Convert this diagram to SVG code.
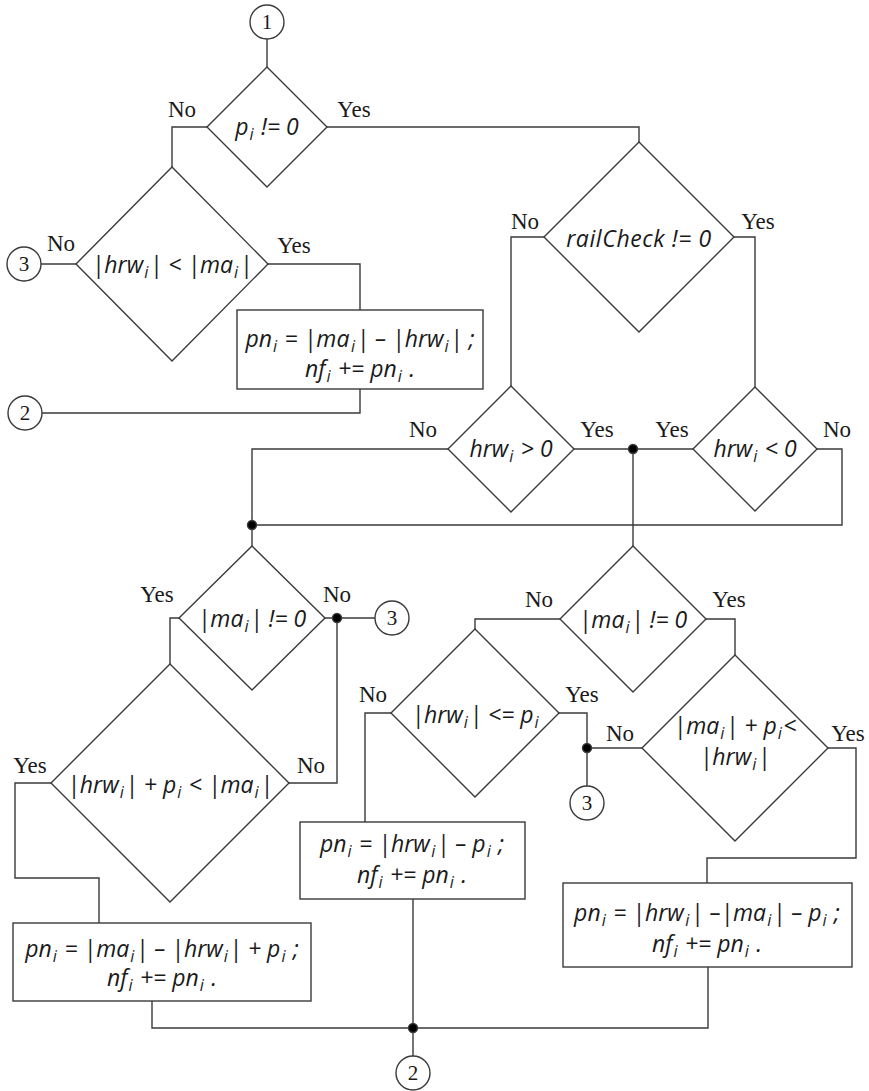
<svg xmlns="http://www.w3.org/2000/svg" width="869" height="1091" viewBox="0 0 869 1091">
<style>
.shape{fill:#fff;stroke:#3a3a3a;stroke-width:1.4}
.wire{fill:none;stroke:#3a3a3a;stroke-width:1.4}
.dot{fill:#000}
.m{font-family:"Open Sans","Noto Sans",sans-serif;font-style:italic;font-size:23px;fill:#1a1a1a;text-anchor:middle}
.s{font-size:16px}
.lbl{font-family:"Liberation Serif",serif;font-size:23px;fill:#1a1a1a;text-anchor:middle}
.num{font-family:"Liberation Serif",serif;font-size:21px;fill:#1a1a1a;text-anchor:middle}
</style>

<!-- connectors -->
<g id="connectors" class="wire">
  <polyline points="267,39 267,67"/>
  <polyline points="207,127 172,127 172,167"/>
  <polyline points="327,127 639,127 639,142"/>
  <polyline points="41,264 76,264"/>
  <polyline points="268,264 360,264 360,310"/>
  <polyline points="360,389 360,413 42,413"/>
  <polyline points="544,237 511,237 511,386"/>
  <polyline points="734,237 755,237 755,387"/>
  <polyline points="574,449 693,449"/>
  <polyline points="633,449 633,546"/>
  <polyline points="817,449 842,449 842,525 252,525"/>
  <polyline points="448,449 252,449 252,546"/>
  <polyline points="325,618 375,618"/>
  <polyline points="337,618 337,783 289,783"/>
  <polyline points="179,618 170,618 170,664"/>
  <polyline points="51,783 15,783 15,878 99,878 99,923"/>
  <polyline points="152,1001 152,1028 708,1028 708,967"/>
  <polyline points="413,899 413,1056"/>
  <polyline points="560,619 475,619 475,629"/>
  <polyline points="706,619 735,619 735,655"/>
  <polyline points="391,713 365,713 365,822"/>
  <polyline points="559,713 587,713 587,786"/>
  <polyline points="587,748 642,748"/>
  <polyline points="828,748 856,748 856,858 707,858 707,883"/>
  <g class="dot">
    <circle cx="633" cy="449" r="4.5"/>
    <circle cx="252" cy="525" r="4.5"/>
    <circle cx="337" cy="618" r="4.5"/>
    <circle cx="587" cy="748" r="4.5"/>
    <circle cx="413" cy="1028" r="4.5"/>
  </g>
</g>

<!-- branch labels -->
<g id="labels" class="lbl">
  <text x="182" y="117">No</text><text x="354" y="117">Yes</text>
  <text x="61" y="251">No</text><text x="294" y="253">Yes</text>
  <text x="525" y="229">No</text><text x="758" y="229">Yes</text>
  <text x="423" y="437">No</text><text x="597" y="437">Yes</text>
  <text x="672" y="437">Yes</text><text x="837" y="437">No</text>
  <text x="157" y="602">Yes</text><text x="337" y="602">No</text>
  <text x="30" y="773">Yes</text><text x="311" y="773">No</text>
  <text x="539" y="607">No</text><text x="729" y="607">Yes</text>
  <text x="373" y="702">No</text><text x="582" y="702">Yes</text>
  <text x="620" y="741">No</text><text x="848" y="741">Yes</text>
</g>

<!-- connector circles -->
<g id="c1"><circle class="shape" cx="267" cy="22" r="17"/><text class="num" x="267" y="29">1</text></g>
<g id="c3a"><circle class="shape" cx="24" cy="264" r="17"/><text class="num" x="24" y="271">3</text></g>
<g id="c2a"><circle class="shape" cx="25" cy="413" r="17"/><text class="num" x="25" y="420">2</text></g>
<g id="c3b"><circle class="shape" cx="392" cy="618" r="17"/><text class="num" x="392" y="625">3</text></g>
<g id="c3c"><circle class="shape" cx="587" cy="803" r="17"/><text class="num" x="587" y="810">3</text></g>
<g id="c2b"><circle class="shape" cx="413" cy="1073" r="17"/><text class="num" x="413" y="1080">2</text></g>

<!-- decisions -->
<g id="d-p">
  <polygon class="shape" points="267,67 327,127 267,187 207,127"/>
  <text class="m" x="267" y="135">p<tspan class="s" dx="1" dy="5">i</tspan><tspan dx="1.5" dy="-5"> != 0</tspan></text>
</g>
<g id="d-hrw-lt-ma">
  <polygon class="shape" points="172,167 268,264 172,361 76,264"/>
  <text class="m" x="172" y="273">|hrw<tspan class="s" dx="1" dy="5">i</tspan><tspan dx="1.5" dy="-5">| &lt; |ma</tspan><tspan class="s" dx="1" dy="5">i</tspan><tspan dx="1.5" dy="-5">|</tspan></text>
</g>
<g id="d-rail">
  <polygon class="shape" points="639,142 734,237 639,332 544,237"/>
  <text class="m" x="639" y="247" letter-spacing="0.6">railCheck != 0</text>
</g>
<g id="d-hrw-pos">
  <polygon class="shape" points="511,386 574,449 511,512 448,449"/>
  <text class="m" x="511" y="457">hrw<tspan class="s" dx="1" dy="5">i</tspan><tspan dx="1.5" dy="-5"> &gt; 0</tspan></text>
</g>
<g id="d-hrw-neg">
  <polygon class="shape" points="755,387 817,449 755,511 693,449"/>
  <text class="m" x="755" y="457">hrw<tspan class="s" dx="1" dy="5">i</tspan><tspan dx="1.5" dy="-5"> &lt; 0</tspan></text>
</g>
<g id="d-ma-left">
  <polygon class="shape" points="252,546 325,618 252,690 179,618"/>
  <text class="m" x="252" y="627">|ma<tspan class="s" dx="1" dy="5">i</tspan><tspan dx="1.5" dy="-5">| != 0</tspan></text>
</g>
<g id="d-sum-left">
  <polygon class="shape" points="170,664 289,783 170,902 51,783"/>
  <text class="m" x="170" y="793">|hrw<tspan class="s" dx="1" dy="5">i</tspan><tspan dx="1.5" dy="-5">| + p</tspan><tspan class="s" dx="1" dy="5">i</tspan><tspan dx="1.5" dy="-5"> &lt; |ma</tspan><tspan class="s" dx="1" dy="5">i</tspan><tspan dx="1.5" dy="-5">|</tspan></text>
</g>
<g id="d-ma-right">
  <polygon class="shape" points="633,546 706,619 633,692 560,619"/>
  <text class="m" x="633" y="628">|ma<tspan class="s" dx="1" dy="5">i</tspan><tspan dx="1.5" dy="-5">| != 0</tspan></text>
</g>
<g id="d-hrw-le-p">
  <polygon class="shape" points="475,629 559,713 475,797 391,713"/>
  <text class="m" x="475" y="723">|hrw<tspan class="s" dx="1" dy="5">i</tspan><tspan dx="1.5" dy="-5">| &lt;= p</tspan><tspan class="s" dx="1" dy="5">i</tspan></text>
</g>
<g id="d-sum-right">
  <polygon class="shape" points="735,655 828,748 735,841 642,748"/>
  <text class="m" x="735" y="734">|ma<tspan class="s" dx="1" dy="5">i</tspan><tspan dx="1.5" dy="-5">| + p</tspan><tspan class="s" dx="1" dy="5">i</tspan><tspan dx="1.5" dy="-5">&lt;</tspan></text>
  <text class="m" x="735" y="765">|hrw<tspan class="s" dx="1" dy="5">i</tspan><tspan dx="1.5" dy="-5">|</tspan></text>
</g>

<!-- process boxes -->
<g id="b-top">
  <rect class="shape" x="237" y="310" width="246" height="79"/>
  <text class="m" x="360" y="347">pn<tspan class="s" dx="1" dy="5">i</tspan><tspan dx="1.5" dy="-5">  = |ma</tspan><tspan class="s" dx="1.5" dy="5">i</tspan><tspan dx="1.5" dy="-5">| – |hrw</tspan><tspan class="s" dx="1" dy="5">i</tspan><tspan dx="1.5" dy="-5">| ;</tspan></text>
  <text class="m" x="360" y="377">nf<tspan class="s" dx="1" dy="5">i</tspan><tspan dx="1.5" dy="-5"> += pn</tspan><tspan class="s" dx="1" dy="5">i</tspan><tspan dx="1.5" dy="-5"> .</tspan></text>
</g>
<g id="b-left">
  <rect class="shape" x="13" y="923" width="298" height="78"/>
  <text class="m" x="162" y="957">pn<tspan class="s" dx="1" dy="5">i</tspan><tspan dx="1.5" dy="-5"> = |ma</tspan><tspan class="s" dx="1" dy="5">i</tspan><tspan dx="1.5" dy="-5">| – |hrw</tspan><tspan class="s" dx="1" dy="5">i</tspan><tspan dx="1.5" dy="-5">| + p</tspan><tspan class="s" dx="1" dy="5">i</tspan><tspan dx="1.5" dy="-5"> ;</tspan></text>
  <text class="m" x="162" y="986">nf<tspan class="s" dx="1" dy="5">i</tspan><tspan dx="1.5" dy="-5"> += pn</tspan><tspan class="s" dx="1" dy="5">i</tspan><tspan dx="1.5" dy="-5"> .</tspan></text>
</g>
<g id="b-mid">
  <rect class="shape" x="300" y="822" width="225" height="77"/>
  <text class="m" x="412" y="852">pn<tspan class="s" dx="1" dy="5">i</tspan><tspan dx="1.5" dy="-5"> = |hrw</tspan><tspan class="s" dx="1.5" dy="5">i</tspan><tspan dx="1.5" dy="-5">| – p</tspan><tspan class="s" dx="1" dy="5">i</tspan><tspan dx="1.5" dy="-5"> ;</tspan></text>
  <text class="m" x="412" y="883">nf<tspan class="s" dx="1" dy="5">i</tspan><tspan dx="1.5" dy="-5"> += pn</tspan><tspan class="s" dx="1" dy="5">i</tspan><tspan dx="1.5" dy="-5"> .</tspan></text>
</g>
<g id="b-right">
  <rect class="shape" x="563" y="883" width="289" height="84"/>
  <text class="m" x="707" y="921">pn<tspan class="s" dx="1" dy="5">i</tspan><tspan dx="1.5" dy="-5"> = |hrw</tspan><tspan class="s" dx="1.5" dy="5">i</tspan><tspan dx="1.5" dy="-5">| –|ma</tspan><tspan class="s" dx="1" dy="5">i</tspan><tspan dx="1.5" dy="-5">| – p</tspan><tspan class="s" dx="1" dy="5">i</tspan><tspan dx="1.5" dy="-5"> ;</tspan></text>
  <text class="m" x="707" y="952">nf<tspan class="s" dx="1" dy="5">i</tspan><tspan dx="1.5" dy="-5"> += pn</tspan><tspan class="s" dx="1" dy="5">i</tspan><tspan dx="1.5" dy="-5"> .</tspan></text>
</g>
</svg>
